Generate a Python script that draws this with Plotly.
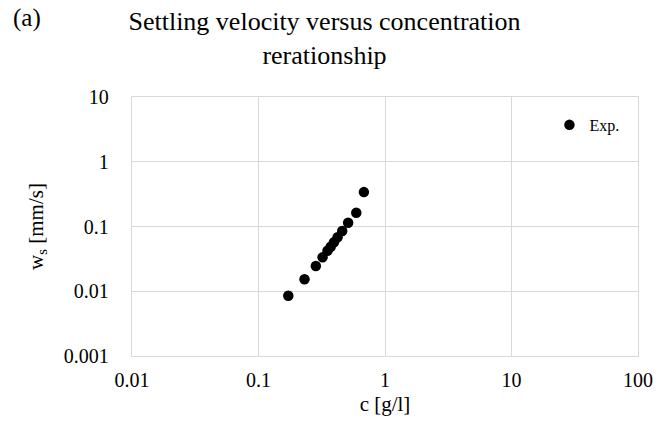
import plotly.graph_objects as go

# Data
conc = [0.172, 0.231, 0.284, 0.321, 0.351, 0.372, 0.395, 0.422, 0.459, 0.511, 0.593, 0.681]
ws = [0.0085, 0.0153, 0.0246, 0.0334, 0.0423, 0.0487, 0.0570, 0.0681, 0.0853, 0.1145, 0.163, 0.340]

x_ticks = [0.01, 0.1, 1, 10, 100]
x_tick_text = ["0.01", "0.1", "1", "10", "100"]
y_ticks = [0.001, 0.01, 0.1, 1, 10]
y_tick_text = ["0.001", "0.01", "0.1", "1", "10"]

FONT = "Liberation Serif, serif"
GRID = "#d9d9d9"

fig = go.Figure()
fig.add_trace(go.Scatter(
    x=conc, y=ws, mode="markers", name="Exp.",
    marker=dict(color="black", size=10.5),
))

fig.update_layout(
    width=665, height=432,
    margin=dict(l=132, r=23, t=97, b=76),
    paper_bgcolor="white", plot_bgcolor="white",
    font=dict(family=FONT, color="black", size=20),
    title=dict(
        text="Settling velocity versus concentration<br>rerationship",
        x=0.488, xanchor="center", xref="container",
        y=0.93, yanchor="top", yref="container",
        font=dict(family=FONT, size=26, color="black"),
    ),
    showlegend=True,
    legend=dict(
        x=0.825, y=0.892, xanchor="left", yanchor="middle",
        bgcolor="rgba(0,0,0,0)", font=dict(family=FONT, size=16, color="black"),
        itemwidth=30,
    ),
    xaxis=dict(
        type="log", range=[-2, 2],
        tickvals=x_ticks, ticktext=x_tick_text,
        showgrid=True, gridcolor=GRID, gridwidth=1.3,
        showline=True, linecolor=GRID, linewidth=1.3, mirror=True,
        zeroline=False, ticks="",
        ticklabelstandoff=6,
        tickfont=dict(family=FONT, size=20, color="black"),
        title=dict(text="c [g/l]", font=dict(family=FONT, size=21, color="black"), standoff=6),
    ),
    yaxis=dict(
        type="log", range=[-3, 1],
        tickvals=y_ticks, ticktext=y_tick_text,
        showgrid=True, gridcolor=GRID, gridwidth=1.3,
        showline=True, linecolor=GRID, linewidth=1.3, mirror=True,
        zeroline=False, ticks="",
        ticklabelstandoff=18,
        tickfont=dict(family=FONT, size=20, color="black"),
        title=dict(text="w<sub>s</sub> [mm/s]", font=dict(family=FONT, size=21, color="black"), standoff=14),
    ),
    annotations=[
        dict(text="(a)", x=-122 / 510, y=1 + 95 / 259, xref="paper", yref="paper",
             xanchor="left", yanchor="top", showarrow=False,
             font=dict(family=FONT, size=25, color="black")),
    ],
)

fig.write_html("out.html")
